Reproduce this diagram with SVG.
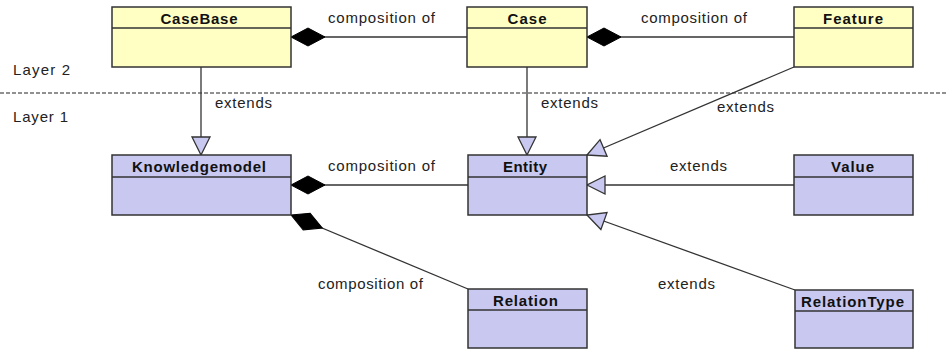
<svg xmlns="http://www.w3.org/2000/svg" width="948" height="349" viewBox="0 0 948 349">
<style>
.box{stroke:#333;stroke-width:1.5}
.y{fill:#ffffc4}
.p{fill:#c8c8f0}
.t{font-family:"Liberation Sans",Arial,sans-serif;font-size:15px;font-weight:bold;fill:#111;text-anchor:middle}
.l{font-family:"Liberation Sans",Arial,sans-serif;font-size:15px;fill:#222}
.c{stroke:#333;stroke-width:1.3;fill:none}
</style>
<defs>
<marker id="dia" markerUnits="userSpaceOnUse" viewBox="0 -10 36 20" refX="0" refY="0" markerWidth="36" markerHeight="20" orient="auto">
<path d="M0,0 L17,-9 L34,0 L17,9 Z" fill="#000" stroke="#000" stroke-width="1"/>
</marker>
<marker id="tri" markerUnits="userSpaceOnUse" viewBox="-20 -11 21 22" refX="0" refY="0" markerWidth="21" markerHeight="22" orient="auto">
<path d="M0,0 L-18,-9 L-18,9 Z" fill="#c8c8f0" stroke="#333" stroke-width="1.3"/>
</marker>
</defs>
<rect width="948" height="349" fill="#fff"/>
<line x1="0" y1="93" x2="948" y2="93" stroke="#222" stroke-width="1" stroke-dasharray="4,2"/>
<text class="l" x="13" y="75" textLength="57" lengthAdjust="spacing">Layer 2</text>
<text class="l" x="13" y="122" textLength="55" lengthAdjust="spacing">Layer 1</text>
<g id="connectors">
<line class="c" x1="291" y1="37" x2="467" y2="37" marker-start="url(#dia)"/>
<text class="l" x="328" y="23" textLength="107" lengthAdjust="spacing">composition of</text>
<line class="c" x1="587" y1="37" x2="794" y2="37" marker-start="url(#dia)"/>
<text class="l" x="641" y="23" textLength="106" lengthAdjust="spacing">composition of</text>
<line class="c" x1="201" y1="67" x2="201" y2="155" marker-end="url(#tri)"/>
<text class="l" x="215" y="108" textLength="57" lengthAdjust="spacing">extends</text>
<line class="c" x1="527" y1="67" x2="527" y2="155" marker-end="url(#tri)"/>
<text class="l" x="541" y="108" textLength="57" lengthAdjust="spacing">extends</text>
<line class="c" x1="794" y1="67" x2="587" y2="155" marker-end="url(#tri)"/>
<text class="l" x="717" y="112" textLength="57" lengthAdjust="spacing">extends</text>
<line class="c" x1="291" y1="185" x2="468" y2="185" marker-start="url(#dia)"/>
<text class="l" x="328" y="171" textLength="107" lengthAdjust="spacing">composition of</text>
<line class="c" x1="794" y1="185" x2="587" y2="185" marker-end="url(#tri)"/>
<text class="l" x="670" y="171" textLength="57" lengthAdjust="spacing">extends</text>
<line class="c" x1="291" y1="215" x2="468" y2="289" marker-start="url(#dia)"/>
<text class="l" x="318" y="289" textLength="105" lengthAdjust="spacing">composition of</text>
<line class="c" x1="795" y1="290" x2="587" y2="215" marker-end="url(#tri)"/>
<text class="l" x="658" y="289" textLength="57" lengthAdjust="spacing">extends</text>
</g>
<g id="CaseBase">
<rect class="box y" x="112" y="7" width="179" height="60"/>
<line class="box" x1="112" y1="28" x2="291" y2="28"/>
<text class="t" x="199" y="24" textLength="77" lengthAdjust="spacing">CaseBase</text>
</g>
<g id="Case">
<rect class="box y" x="467" y="7" width="120" height="60"/>
<line class="box" x1="467" y1="28" x2="587" y2="28"/>
<text class="t" x="527" y="24" textLength="39" lengthAdjust="spacing">Case</text>
</g>
<g id="Feature">
<rect class="box y" x="794" y="7" width="119" height="60"/>
<line class="box" x1="794" y1="28" x2="913" y2="28"/>
<text class="t" x="853" y="24" textLength="60" lengthAdjust="spacing">Feature</text>
</g>
<g id="Knowledgemodel">
<rect class="box p" x="112" y="155" width="179" height="60"/>
<line class="box" x1="112" y1="177" x2="291" y2="177"/>
<text class="t" x="199" y="172" textLength="134" lengthAdjust="spacing">Knowledgemodel</text>
</g>
<g id="Entity">
<rect class="box p" x="468" y="155" width="119" height="60"/>
<line class="box" x1="468" y1="177" x2="587" y2="177"/>
<text class="t" x="525" y="172" textLength="44" lengthAdjust="spacing">Entity</text>
</g>
<g id="Value">
<rect class="box p" x="794" y="155" width="119" height="60"/>
<line class="box" x1="794" y1="177" x2="913" y2="177"/>
<text class="t" x="852.5" y="172" textLength="43" lengthAdjust="spacing">Value</text>
</g>
<g id="Relation">
<rect class="box p" x="468" y="289" width="119" height="59"/>
<line class="box" x1="468" y1="310" x2="587" y2="310"/>
<text class="t" x="525.5" y="306" textLength="65" lengthAdjust="spacing">Relation</text>
</g>
<g id="RelationType">
<rect class="box p" x="795" y="290" width="118" height="58"/>
<line class="box" x1="795" y1="311" x2="913" y2="311"/>
<text class="t" x="852.5" y="307" textLength="103" lengthAdjust="spacing">RelationType</text>
</g>
</svg>
